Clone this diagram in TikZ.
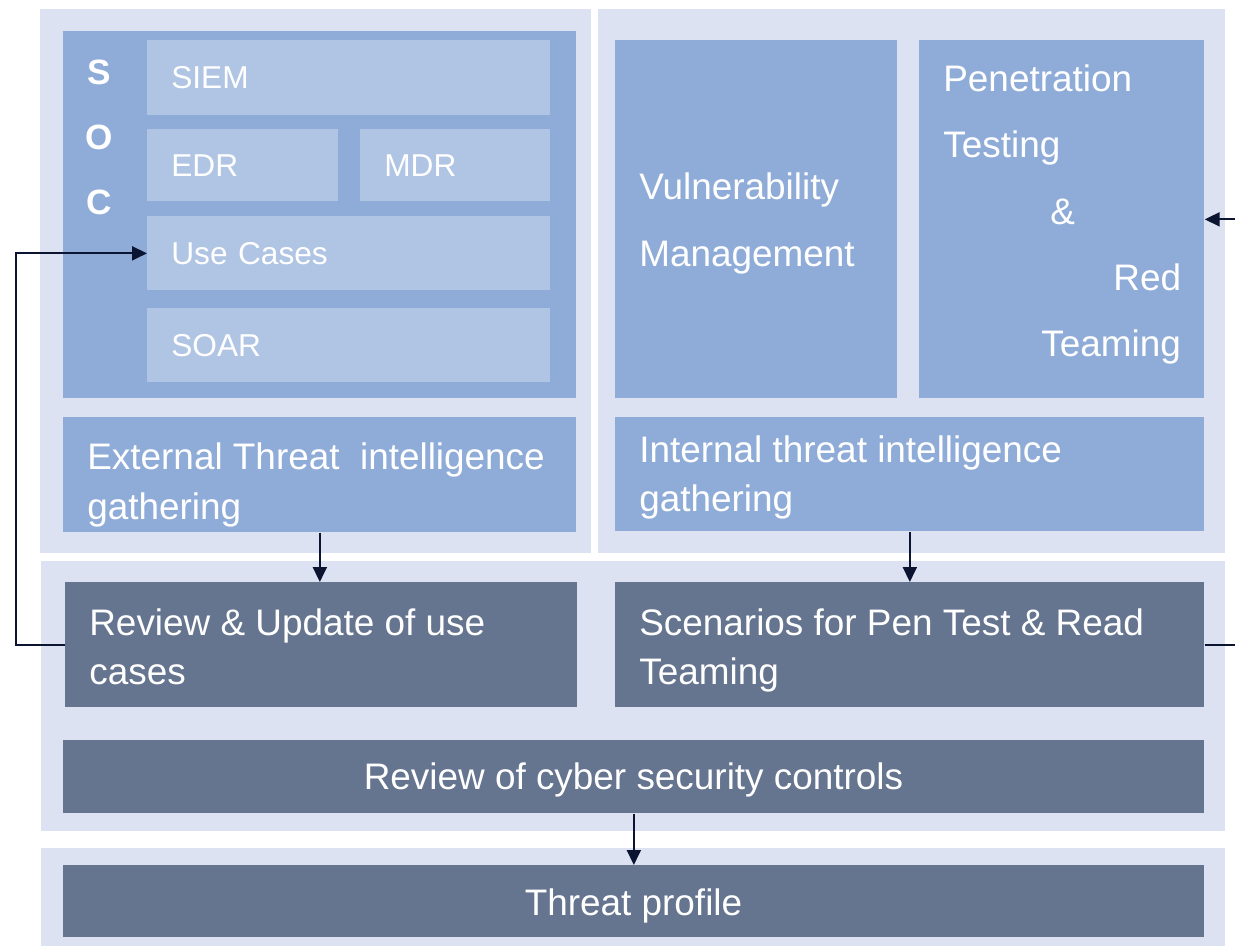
\documentclass[tikz,border=0pt]{standalone}
\usepackage{fontspec}
\setmainfont{Liberation Sans}
\usetikzlibrary{arrows.meta}
\definecolor{panel}{HTML}{DCE2F2}
\definecolor{midblue}{HTML}{8FACD8}
\definecolor{lightblue}{HTML}{B0C4E4}
\definecolor{darkbox}{HTML}{65748F}
\definecolor{linec}{HTML}{0B1430}
\tikzset{
  base/.style={rectangle, anchor=north west, inner xsep=0.48cm, inner ysep=0pt, text=white, align=left},
  small/.style={base, fill=lightblue, font=\fontsize{18}{22}\selectfont},
  boxmid/.style={rectangle, anchor=north west, inner sep=0pt, fill=midblue},
  boxdark/.style={rectangle, anchor=north west, inner sep=0pt, fill=darkbox},
  txt/.style={anchor=west, inner sep=0pt, text=white, align=left, font=\fontsize{21}{28}\selectfont},
  txtc/.style={anchor=center, inner sep=0pt, text=white, align=center, font=\fontsize{21}{28}\selectfont},
  arr/.style={draw=linec, line width=1.1pt, -{Triangle[length=0.3cm,width=0.28cm]}},
}
\begin{document}
\begin{tikzpicture}[y=-1cm]
\clip (0,0) rectangle (24.70,18.96);
\fill[white] (0,0) rectangle (24.70,18.96);
% panels
\fill[panel] (0.80,0.18) rectangle (11.82,11.06);
\fill[panel] (11.96,0.18) rectangle (24.50,11.06);
\fill[panel] (0.82,11.22) rectangle (24.50,16.62);
\fill[panel] (0.82,16.96) rectangle (24.50,18.92);
% SOC block
\node[boxmid, minimum width=10.26cm, minimum height=7.34cm] (soc) at (1.26,0.62) {};
\node[text=white, inner sep=0pt, font=\fontsize{20}{37}\selectfont\bfseries, align=center] (soclbl) at (1.98,2.74) {S\\O\\C};
\node[small, minimum height=1.50cm, text width=7.10cm] (siem) at (2.94,0.80) {SIEM};
\node[small, minimum height=1.44cm, text width=2.86cm] (edr) at (2.94,2.58) {EDR};
\node[small, minimum height=1.44cm, text width=2.84cm] (mdr) at (7.20,2.58) {MDR};
\node[small, minimum height=1.48cm, text width=7.10cm] (use) at (2.94,4.32) {Use Cases};
\node[small, minimum height=1.48cm, text width=7.10cm] (soar) at (2.94,6.16) {SOAR};
\node[boxmid, minimum width=10.26cm, minimum height=2.30cm] (ext) at (1.26,8.34) {};
\node[txt] (extT) at (1.74,9.70) {External Threat\ \ intelligence\\gathering};
% right top
\node[boxmid, minimum width=5.64cm, minimum height=7.16cm] (vuln) at (12.30,0.80) {};
\node[txt, font=\fontsize{21}{37.8}\selectfont] (vulnT) at (12.78,4.47) {Vulnerability\\Management};
\node[boxmid, minimum width=5.70cm, minimum height=7.16cm] (pen) at (18.38,0.80) {};
\node[txt, font=\fontsize{21}{37.6}\selectfont] (penT) at (18.86,4.29) {Penetration\\Testing\\\hspace*{2.14cm}\&\\\hspace*{3.40cm}Red\\\hspace*{1.96cm}Teaming};
\node[boxmid, minimum width=11.78cm, minimum height=2.28cm] (int) at (12.30,8.34) {};
\node[txt] (intT) at (12.78,9.55) {Internal threat intelligence\\gathering};
% middle
\node[boxdark, minimum width=10.24cm, minimum height=2.50cm] (rev) at (1.30,11.64) {};
\node[txt] (revT) at (1.78,12.94) {Review \& Update of use\\cases};
\node[boxdark, minimum width=11.78cm, minimum height=2.50cm] (scen) at (12.30,11.64) {};
\node[txt] (scenT) at (12.78,13.01) {Scenarios for Pen Test \& Read\\Teaming};
\node[boxdark, minimum width=22.82cm, minimum height=1.46cm] (ctrl) at (1.26,14.80) {};
\node[txtc] (ctrlT) at (12.67,15.59) {Review of cyber security controls};
\node[boxdark, minimum width=22.82cm, minimum height=1.44cm] (tp) at (1.26,17.30) {};
\node[txtc] (tpT) at (12.67,18.12) {Threat profile};
% connectors
\draw[arr] (ext.south) -- (ext.south |- rev.north);
\draw[arr] (int.south) -- (int.south |- scen.north);
\draw[arr] (ctrl.south) -- (ctrl.south |- tp.north);
\draw[arr] (rev.west) -- ++(-0.98,0) |- (use.west);
\draw[arr] (scen.east) -- ++(1.0,0) |- (pen.east);
\end{tikzpicture}
\end{document}
